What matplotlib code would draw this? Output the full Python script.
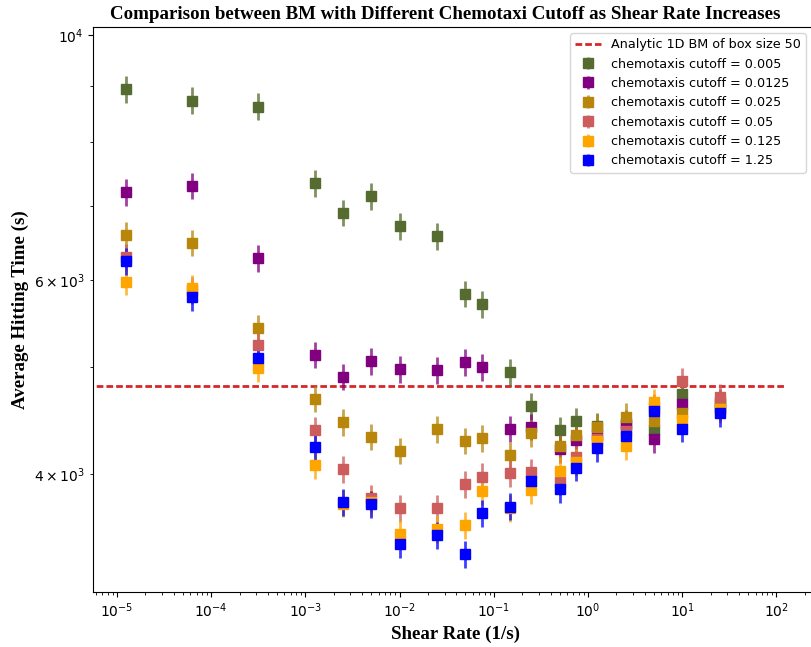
import numpy as np
import matplotlib.pyplot as plt

# shear rates (1/s)
shear = [1.25e-5, 6.25e-5, 3.125e-4, 1.25e-3, 2.5e-3, 5e-3, 1e-2, 2.5e-2, 5e-2,
         7.5e-2, 0.15, 0.25, 0.5, 0.75, 1.25, 2.5, 5, 10, 25]

# average hitting time (s) for each chemotaxis cutoff
t_0005 = [8937, 8725, 8617, 7343, 6904, 7151, 6716, 6572, 5829, 5706,
          4945, 4610, 4385, 4468, 4420, 4450, 4385, 4725, 4650]
t_00125 = [7205, 7305, 6277, 5132, 4901, 5064, 4980, 4968, 5053, 5000,
           4396, 4415, 4215, 4296, 4339, 4427, 4301, 4628, 4596]
t_0025 = [6588, 6485, 5427, 4681, 4455, 4324, 4199, 4392, 4288, 4311,
          4161, 4358, 4240, 4336, 4409, 4509, 4465, 4548, 4632]
t_005 = [6290, 5870, 5238, 4384, 4040, 3802, 3724, 3724, 3915, 3978,
         4008, 4019, 3935, 4148, 4300, 4380, 4600, 4853, 4696]
t_0125 = [5977, 5897, 4990, 4073, 3760, 3770, 3532, 3566, 3596, 3858,
          3725, 3868, 4028, 4100, 4288, 4240, 4651, 4477, 4580]
t_125 = [6243, 5787, 5096, 4234, 3772, 3757, 3454, 3519, 3382, 3685,
         3737, 3944, 3874, 4053, 4219, 4331, 4563, 4396, 4542]

rel_err = 0.028  # relative standard error

cutoffs = ['0.005', '0.0125', '0.025', '0.05', '0.125', '1.25']
series = [t_0005, t_00125, t_0025, t_005, t_0125, t_125]
colors = ['darkolivegreen', 'purple', 'darkgoldenrod', 'indianred', 'orange', 'blue']

bm_x = [1e-7, 125]
bm_time = 4810

fig = plt.figure(figsize=(8.11, 6.47), dpi=100)
ax = fig.add_axes([0.1147, 0.085, 0.895, 0.8733])

ax.plot(bm_x, [bm_time, bm_time], '--', color='tab:red', lw=2, dashes=(2.4, 1.1),
        label='Analytic 1D BM of box size 50')

for c, y, col in zip(cutoffs, series, colors):
    y = np.array(y)
    eb = ax.errorbar(shear, y, yerr=rel_err * y, fmt='s', color=col, ms=6.5,
                     elinewidth=2, label='chemotaxis cutoff = ' + c)
    for lc in eb[2]:
        lc.set_alpha(0.75)

ax.set_xscale('log')
ax.set_yscale('log')
ax.set_xlim(5.57e-6, 282)
ax.set_ylim(3126, 10178)

serif = dict(family='Liberation Serif', fontweight='bold', fontsize=13.6)
ax.set_title('Comparison between BM with Different Chemotaxi Cutoff as Shear Rate Increases',
             x=0.4855, **serif)
ax.set_xlabel('Shear Rate (1/s)', **serif)
ax.set_ylabel('Average Hitting Time (s)', **serif)

ax.legend(loc='upper right', bbox_to_anchor=(806 / 811, (647 - 33) / 647),
          bbox_transform=fig.transFigure, borderaxespad=0, fontsize=9.2)

fig.savefig('out.png', dpi=100)
